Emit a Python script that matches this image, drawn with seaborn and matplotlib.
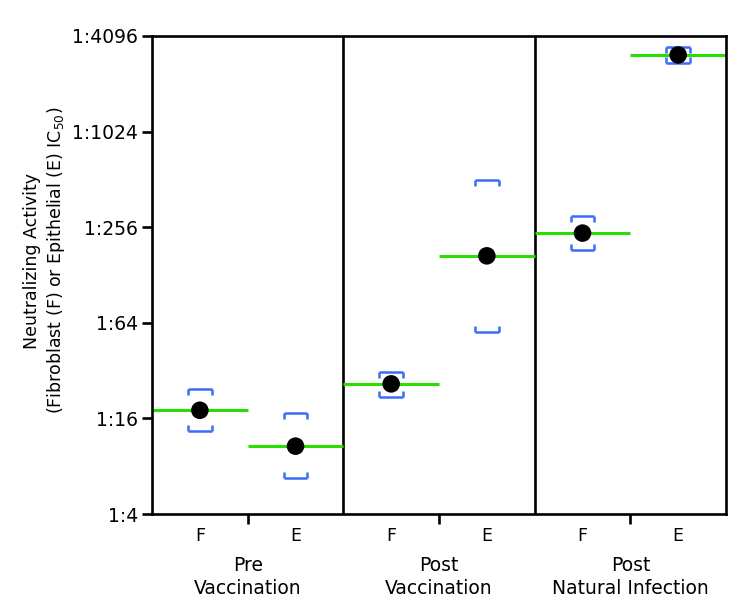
import numpy as np
import pandas as pd
import matplotlib
matplotlib.use("Agg")
import matplotlib.pyplot as plt
import seaborn as sns

# ---- data ----
groups = ["Pre\nVaccination", "Post\nVaccination", "Post\nNatural Infection"]
cells = ["F", "E"]
mean_titer = [18.0, 10.7, 26.4, 169.0, 235.0, 3110.0]
upper_titer = [24.6, 17.3, 31.4, 508.0, 301.0, 3490.0]
lower_titer = [13.3, 6.7, 21.8, 56.0, 184.0, 2770.0]
y_ticks = [4, 16, 64, 256, 1024, 4096]
y_tick_labels = ["1:4", "1:16", "1:64", "1:256", "1:1024", "1:4096"]

rows = []
for gi, g in enumerate(groups):
    for ci, c in enumerate(cells):
        k = gi * len(cells) + ci
        rows.append(dict(group=g, cell=c, x=gi * len(cells) + ci + 0.5,
                         mean=mean_titer[k], upper=upper_titer[k], lower=lower_titer[k]))
df = pd.DataFrame(rows)

sns.set_style("ticks")
plt.rcParams['font.family'] = ['DejaVu Sans']
plt.rcParams['text.color'] = 'black'
plt.rcParams['axes.labelcolor'] = 'black'
plt.rcParams['xtick.color'] = 'black'
plt.rcParams['ytick.color'] = 'black'

fig = plt.figure(figsize=(7.5, 6.15), dpi=100)
ax = fig.add_axes([0.2027, 0.1642, 0.7653, 0.7773])
ax.set_yscale("log", base=2)
ax.set_ylim(4, 4096)
n = len(df)
ax.set_xlim(0, n)

GREEN = "#28e000"
BLUE = "#3c6cf5"

# green mean lines spanning each half-panel
ax.hlines(df["mean"], df["x"] - 0.5, df["x"] + 0.5, color=GREEN, lw=2.2, zorder=2)

# blue bracket error caps
hw = 0.125
f = 2 ** 0.13
ax.hlines(df["upper"], df["x"] - hw, df["x"] + hw, color=BLUE, lw=1.8, zorder=2)
ax.hlines(df["lower"], df["x"] - hw, df["x"] + hw, color=BLUE, lw=1.8, zorder=2)
for s in (-1, 1):
    ax.vlines(df["x"] + s * hw, df["upper"] / f, df["upper"], color=BLUE, lw=1.8, zorder=2)
    ax.vlines(df["x"] + s * hw, df["lower"], df["lower"] * f, color=BLUE, lw=1.8, zorder=2)

# mean dots
sns.scatterplot(data=df, x="x", y="mean", ax=ax, color="black", s=160,
                edgecolor="none", zorder=3, legend=False)

# panel separators
for gi in range(1, len(groups)):
    ax.axvline(gi * len(cells), color="black", lw=1.9, zorder=1)

for sp in ax.spines.values():
    sp.set_linewidth(1.9)
    sp.set_color("black")
    sp.set_visible(True)

ax.set_yticks(y_ticks, y_tick_labels)
ax.yaxis.set_minor_locator(matplotlib.ticker.NullLocator())
ax.tick_params(axis="y", which="major", length=7, width=1.9, pad=3, labelsize=13.5)

ax.set_xticks(df["x"], df["cell"])
ax.tick_params(axis="x", which="major", length=0, pad=9, labelsize=12.5)
ax.set_xticks([gi * len(cells) + 1 for gi in range(len(groups))], minor=True)
ax.tick_params(axis="x", which="minor", length=7, width=1.9)

for gi, g in enumerate(groups):
    ax.annotate(g, xy=(gi * len(cells) + 1, 0), xycoords=("data", "axes fraction"),
                xytext=(0, -30), textcoords="offset points", ha="center", va="top",
                fontsize=13.5, linespacing=1.3)

ax.set_xlabel("")
ax.set_ylabel("Neutralizing Activity\n(Fibroblast (F) or Epithelial (E) IC$_{50}$)",
              fontsize=12.5, linespacing=1.25)
ax.yaxis.set_label_coords(-0.148, 0.53)

fig.savefig("out.png", dpi=100)
